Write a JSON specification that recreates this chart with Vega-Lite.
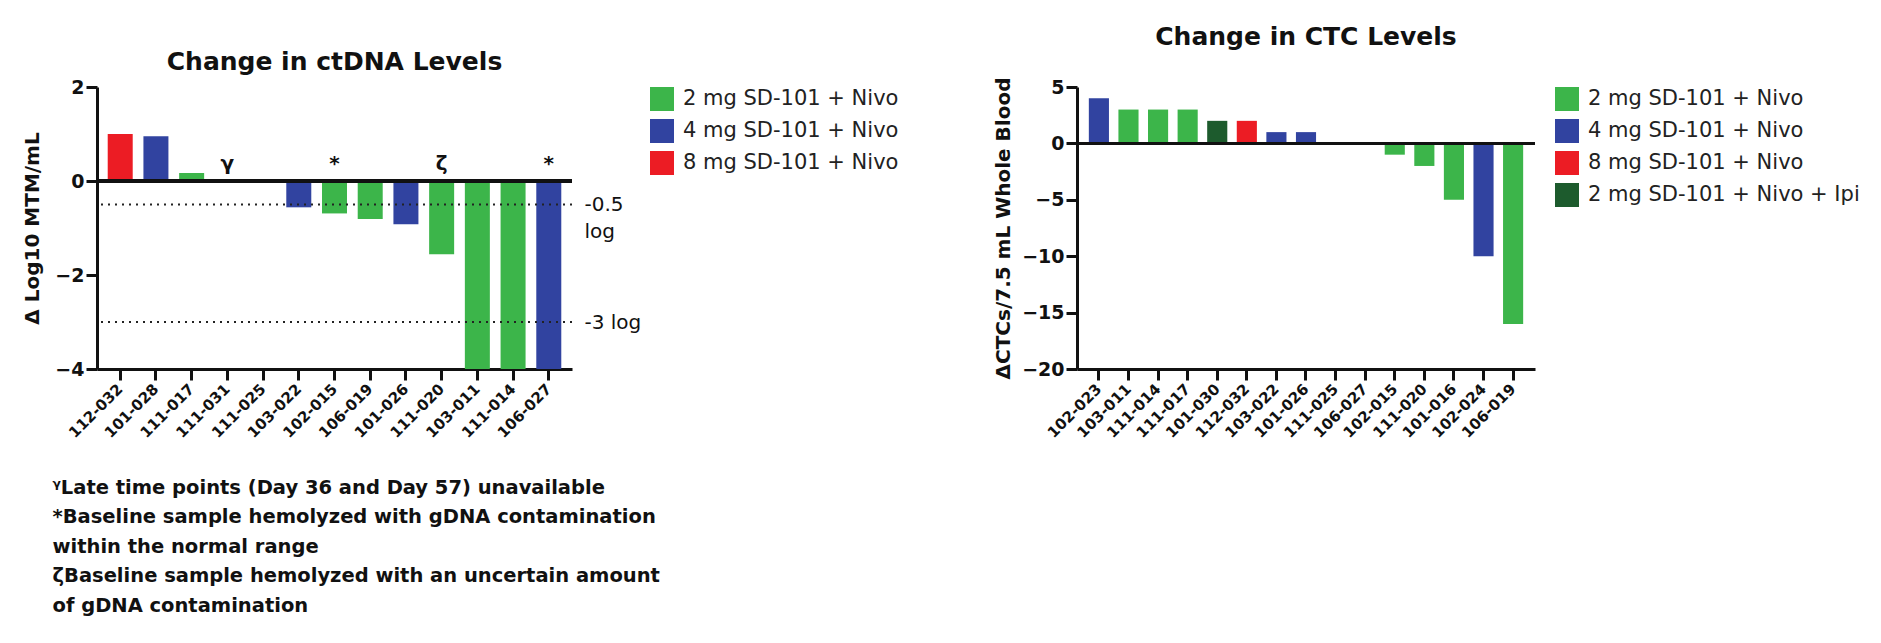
{
  "$schema": "https://vega.github.io/schema/vega-lite/v6.json",
  "background": "white",
  "padding": {"left": 22, "top": 25, "right": 5, "bottom": 5},
  "spacing": 94,
  "config": {
    "font": "DejaVu Sans",
    "view": {"stroke": null},
    "axis": {
      "grid": false,
      "domainColor": "#111", "domainWidth": 3,
      "tickColor": "#111", "tickWidth": 3, "tickSize": 11,
      "labelColor": "#111", "labelFont": "DejaVu Sans", "labelFontWeight": "bold", "labelFontSize": 19, "labelPadding": 2,
      "titleColor": "#111", "titleFont": "DejaVu Sans", "titleFontWeight": "bold", "titleFontSize": 20
    },
    "title": {"font": "DejaVu Sans", "fontSize": 25, "fontWeight": "bold", "color": "#111"},
    "legend": {
      "title": null, "orient": "right", "symbolType": "square", "symbolSize": 576, "symbolStrokeWidth": 0,
      "labelFont": "DejaVu Sans", "labelFontSize": 21, "labelColor": "#222", "labelOffset": 9, "rowPadding": 8, "labelLimit": 400
    }
  },
  "resolve": {"scale": {"color": "independent"}},
  "hconcat": [
    {
      "width": 475,
      "height": 282,
      "title": {"text": "Change in ctDNA Levels", "offset": 3},
      "data": {"values": [
        {"id": "112-032", "value": 1.0, "group": "8 mg SD-101 + Nivo", "note": ""},
        {"id": "101-028", "value": 0.95, "group": "4 mg SD-101 + Nivo", "note": ""},
        {"id": "111-017", "value": 0.17, "group": "2 mg SD-101 + Nivo", "note": ""},
        {"id": "111-031", "value": -0.04, "group": "2 mg SD-101 + Nivo", "note": "γ"},
        {"id": "111-025", "value": 0, "group": "2 mg SD-101 + Nivo", "note": ""},
        {"id": "103-022", "value": -0.56, "group": "4 mg SD-101 + Nivo", "note": ""},
        {"id": "102-015", "value": -0.69, "group": "2 mg SD-101 + Nivo", "note": "*"},
        {"id": "106-019", "value": -0.81, "group": "2 mg SD-101 + Nivo", "note": ""},
        {"id": "101-026", "value": -0.92, "group": "4 mg SD-101 + Nivo", "note": ""},
        {"id": "111-020", "value": -1.56, "group": "2 mg SD-101 + Nivo", "note": "ζ"},
        {"id": "103-011", "value": -4, "group": "2 mg SD-101 + Nivo", "note": ""},
        {"id": "111-014", "value": -4, "group": "2 mg SD-101 + Nivo", "note": ""},
        {"id": "106-027", "value": -4, "group": "4 mg SD-101 + Nivo", "note": "*"}
      ]},
      "layer": [
        {
          "mark": {"type": "bar"},
          "encoding": {
            "x": {
              "field": "id", "type": "nominal", "sort": null,
              "scale": {"paddingInner": 0.3, "paddingOuter": 0.3},
              "axis": {
                "labelAngle": -45, "labelAlign": "right", "labelBaseline": "middle", "labelFontSize": 15, "labelPadding": 6,
                "title": [
                  "ᵞLate time points (Day 36 and Day 57) unavailable",
                  "*Baseline sample hemolyzed with gDNA contamination",
                  "within the normal range",
                  "ζBaseline sample hemolyzed with an uncertain amount",
                  "of gDNA contamination"
                ],
                "titleAnchor": "start", "titleAlign": "left", "titleBaseline": "alphabetic",
                "titleX": -45, "titleY": 124, "titleFontSize": 19.5, "titleLineHeight": 29.5
              }
            },
            "y": {
              "field": "value", "type": "quantitative",
              "scale": {"domain": [-4, 2], "nice": false},
              "axis": {"orient": "left", "values": [-4, -2, 0, 2], "title": "Δ Log10 MTM/mL", "titlePadding": 12}
            },
            "color": {
              "field": "group", "type": "nominal",
              "scale": {"domain": ["2 mg SD-101 + Nivo", "4 mg SD-101 + Nivo", "8 mg SD-101 + Nivo"], "range": ["#3cb54a", "#3143a0", "#ec1c24"]},
              "legend": {"offset": 9}
            }
          }
        },
        {
          "mark": {"type": "rule", "color": "#111", "strokeWidth": 3},
          "encoding": {"y": {"datum": 0, "axis": null}}
        },
        {
          "transform": [{"filter": "datum.note != ''"}],
          "mark": {"type": "text", "fontSize": 20, "fontWeight": "bold", "baseline": "middle", "color": "#111"},
          "encoding": {
            "x": {"field": "id", "type": "nominal", "sort": null},
            "y": {"datum": 0.37, "axis": null},
            "text": {"field": "note"}
          }
        },
        {
          "data": {"values": [{"ref": -0.5}, {"ref": -3}]},
          "mark": {"type": "rule", "color": "#222", "strokeWidth": 2, "strokeDash": [2, 5]},
          "encoding": {
            "y": {
              "field": "ref", "type": "quantitative",
              "scale": {"domain": [-4, 2], "nice": false},
              "axis": {
                "orient": "right", "values": [-0.5, -3], "domain": false, "ticks": false, "title": null,
                "labelExpr": "datum.value == -3 ? '-3 log' : ['-0.5', 'log']",
                "labelFontWeight": "normal", "labelFontSize": 20, "labelPadding": 12, "labelAlign": "left",
                "labelBaseline": "alphabetic", "labelOffset": 6, "labelLineHeight": 27
              }
            }
          }
        }
      ],
      "resolve": {"axis": {"y": "independent"}}
    },
    {
      "width": 458,
      "height": 282,
      "title": {"text": "Change in CTC Levels", "offset": 27},
      "data": {"values": [
        {"id": "102-023", "value": 4, "group": "4 mg SD-101 + Nivo"},
        {"id": "103-011", "value": 3, "group": "2 mg SD-101 + Nivo"},
        {"id": "111-014", "value": 3, "group": "2 mg SD-101 + Nivo"},
        {"id": "111-017", "value": 3, "group": "2 mg SD-101 + Nivo"},
        {"id": "101-030", "value": 2, "group": "2 mg SD-101 + Nivo + Ipi"},
        {"id": "112-032", "value": 2, "group": "8 mg SD-101 + Nivo"},
        {"id": "103-022", "value": 1, "group": "4 mg SD-101 + Nivo"},
        {"id": "101-026", "value": 1, "group": "4 mg SD-101 + Nivo"},
        {"id": "111-025", "value": 0, "group": "2 mg SD-101 + Nivo"},
        {"id": "106-027", "value": 0, "group": "4 mg SD-101 + Nivo"},
        {"id": "102-015", "value": -1, "group": "2 mg SD-101 + Nivo"},
        {"id": "111-020", "value": -2, "group": "2 mg SD-101 + Nivo"},
        {"id": "101-016", "value": -5, "group": "2 mg SD-101 + Nivo"},
        {"id": "102-024", "value": -10, "group": "4 mg SD-101 + Nivo"},
        {"id": "106-019", "value": -16, "group": "2 mg SD-101 + Nivo"}
      ]},
      "layer": [
        {
          "mark": {"type": "bar"},
          "encoding": {
            "x": {
              "field": "id", "type": "nominal", "sort": null,
              "scale": {"paddingInner": 0.32, "paddingOuter": 0.4},
              "axis": {"labelAngle": -45, "labelAlign": "right", "labelBaseline": "middle", "labelFontSize": 15, "labelPadding": 6, "title": null}
            },
            "y": {
              "field": "value", "type": "quantitative",
              "scale": {"domain": [-20, 5], "nice": false},
              "axis": {"values": [-20, -15, -10, -5, 0, 5], "title": "ΔCTCs/7.5 mL Whole Blood", "titlePadding": 8}
            },
            "color": {
              "field": "group", "type": "nominal",
              "scale": {"domain": ["2 mg SD-101 + Nivo", "4 mg SD-101 + Nivo", "8 mg SD-101 + Nivo", "2 mg SD-101 + Nivo + Ipi"], "range": ["#3cb54a", "#3143a0", "#ec1c24", "#1d5b2d"]},
              "legend": {"offset": 20}
            }
          }
        },
        {
          "mark": {"type": "rule", "color": "#111", "strokeWidth": 3},
          "encoding": {"y": {"datum": 0}}
        }
      ]
    }
  ]
}
